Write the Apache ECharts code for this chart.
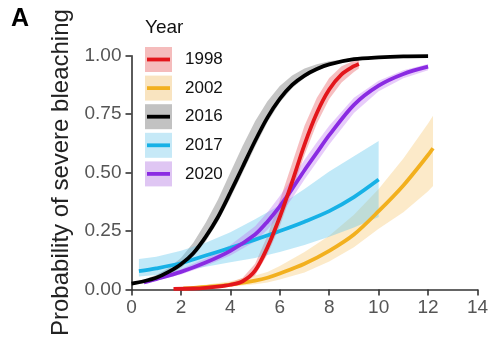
<!DOCTYPE html>
<html>
<head>
<meta charset="utf-8">
<script src="https://cdn.jsdelivr.net/npm/echarts@6/dist/echarts.min.js"></script>
<style>
  html, body { margin: 0; padding: 0; background: #fff; }
  #chart { width: 492px; height: 339px; }
</style>
</head>
<body>
<div id="chart"></div>
<script>
// Fitted probability of severe bleaching vs. heat stress, by bleaching year,
// with the confidence band (lo/hi) for each fit.
const years = ['1998', '2002', '2016', '2017', '2020'];

const x1998   = [1.7, 2.5, 3, 3.5, 4, 4.5, 5, 5.5, 6, 6.5, 7, 7.5, 8, 8.5, 9, 9.2];
const fit1998 = [0.002, 0.004, 0.007, 0.012, 0.02, 0.035, 0.08, 0.18, 0.31, 0.46, 0.62, 0.755, 0.855, 0.92, 0.955, 0.965];
const lo1998  = [0.001, 0.002, 0.004, 0.008, 0.013, 0.024, 0.06, 0.15, 0.27, 0.42, 0.575, 0.71, 0.815, 0.885, 0.93, 0.945];
const hi1998  = [0.004, 0.007, 0.011, 0.018, 0.03, 0.05, 0.11, 0.23, 0.38, 0.54, 0.70, 0.82, 0.905, 0.955, 0.978, 0.985];

const x2002   = [2.1, 3, 4, 5, 5.5, 6, 7, 8, 9, 10, 11, 12, 12.2];
const fit2002 = [0.004, 0.011, 0.021, 0.038, 0.05, 0.068, 0.11, 0.165, 0.235, 0.335, 0.445, 0.575, 0.604];
const lo2002  = [0.002, 0.005, 0.011, 0.022, 0.03, 0.042, 0.072, 0.12, 0.18, 0.26, 0.33, 0.42, 0.443];
const hi2002  = [0.008, 0.02, 0.035, 0.06, 0.075, 0.1, 0.16, 0.23, 0.32, 0.43, 0.56, 0.71, 0.743];

const x2016   = [0, 0.5, 1, 1.5, 2, 2.5, 3, 3.5, 4, 4.5, 5, 5.5, 6, 6.5, 7, 7.5, 8, 9, 10, 11, 12];
const fit2016 = [0.025, 0.035, 0.05, 0.075, 0.108, 0.155, 0.225, 0.31, 0.415, 0.525, 0.635, 0.735, 0.815, 0.875, 0.915, 0.943, 0.963, 0.985, 0.993, 0.997, 0.998];
const lo2016  = [0.02, 0.029, 0.042, 0.062, 0.092, 0.14, 0.205, 0.29, 0.39, 0.5, 0.61, 0.715, 0.8, 0.862, 0.905, 0.936, 0.958, 0.983, 0.992, 0.996, 0.997];
const hi2016  = [0.03, 0.042, 0.062, 0.092, 0.135, 0.2, 0.285, 0.385, 0.5, 0.615, 0.72, 0.805, 0.87, 0.915, 0.945, 0.963, 0.976, 0.99, 0.996, 0.998, 0.999];

const x2017   = [0.3, 1, 2, 3, 4, 5, 6, 7, 8, 9, 10];
const fit2017 = [0.078, 0.09, 0.112, 0.145, 0.178, 0.213, 0.25, 0.29, 0.335, 0.395, 0.47];
const lo2017  = [0.055, 0.062, 0.078, 0.097, 0.116, 0.135, 0.16, 0.19, 0.225, 0.265, 0.31];
const hi2017  = [0.13, 0.14, 0.165, 0.2, 0.245, 0.3, 0.36, 0.43, 0.505, 0.57, 0.635];

const x2020   = [0.5, 1, 2, 3, 4, 5, 5.5, 6, 6.5, 7, 7.5, 8, 9, 10, 11, 12];
const fit2020 = [0.03, 0.044, 0.075, 0.115, 0.165, 0.235, 0.29, 0.355, 0.43, 0.51, 0.585, 0.66, 0.79, 0.872, 0.922, 0.953];
const lo2020  = [0.025, 0.037, 0.064, 0.1, 0.145, 0.205, 0.255, 0.315, 0.39, 0.47, 0.545, 0.62, 0.755, 0.848, 0.903, 0.938];
const hi2020  = [0.036, 0.052, 0.087, 0.132, 0.19, 0.27, 0.33, 0.4, 0.475, 0.555, 0.63, 0.7, 0.82, 0.893, 0.938, 0.965];

const xTicks = [0, 2, 4, 6, 8, 10, 12, 14];
const yTicks = [0, 0.25, 0.5, 0.75, 1];

const groups = {
  '1998': { x: x1998, fit: fit1998, lo: lo1998, hi: hi1998 },
  '2002': { x: x2002, fit: fit2002, lo: lo2002, hi: hi2002 },
  '2016': { x: x2016, fit: fit2016, lo: lo2016, hi: hi2016 },
  '2017': { x: x2017, fit: fit2017, lo: lo2017, hi: hi2017 },
  '2020': { x: x2020, fit: fit2020, lo: lo2020, hi: hi2020 }
};

const lineColor = { '1998': '#e3161b', '2002': '#f2b01e', '2016': '#000000', '2017': '#17b1e6', '2020': '#8a2be2' };
const bandColor = {
  '1998': 'rgba(236,110,115,0.45)',
  '2002': 'rgba(245,196,100,0.35)',
  '2016': 'rgba(150,150,150,0.55)',
  '2017': 'rgba(100,200,238,0.40)',
  '2020': 'rgba(185,110,240,0.35)'
};
const keyColor = { '1998': '#f5bcbc', '2002': '#f9e4c0', '2016': '#c2c2c2', '2017': '#c6e9f7', '2020': '#dfc6f3' };

const font = 'Liberation Sans, Arial, Helvetica, sans-serif';

const series = [];
// confidence bands: one filled polygon per year (upper edge, then lower edge back)
years.forEach(function (y) {
  const g = groups[y];
  series.push({
    type: 'custom', name: y + ' band', silent: true, z: 1,
    data: g.x.map(function (v, i) { return [v, g.lo[i], g.hi[i]]; }),
    encode: { x: 0, y: [1, 2] },
    renderItem: function (params, api) {
      if (params.dataIndex !== 0) return null;
      const pts = [];
      for (let i = 0; i < g.x.length; i++) pts.push(api.coord([g.x[i], g.hi[i]]));
      for (let i = g.x.length - 1; i >= 0; i--) pts.push(api.coord([g.x[i], g.lo[i]]));
      return {
        type: 'polygon',
        shape: { points: pts },
        style: { fill: bandColor[y], stroke: null }
      };
    }
  });
});
// fitted curves, drawn above the bands
['2002', '2017', '2020', '1998', '2016'].forEach(function (y, k) {
  const g = groups[y];
  series.push({
    type: 'line', name: y, smooth: 0.3,
    symbol: 'none', z: 3 + k,
    lineStyle: { color: lineColor[y], width: 3.8, cap: 'butt' },
    data: g.x.map(function (v, i) { return [v, g.fit[i]]; })
  });
});

// legend key: band swatch with the curve colour across it
const graphic = [
  { type: 'text', z: 100, left: 11, top: 7, style: { text: 'A', font: 'bold 25px ' + font, fill: '#000' } },
  { type: 'text', z: 100, left: 145, top: 18, style: { text: 'Year', font: '19px ' + font, fill: '#111' } }
];
years.forEach(function (y, i) {
  const cy = 59.5 + i * 28.6;
  graphic.push({ type: 'rect', z: 100, shape: { x: 145, y: cy - 12.5, width: 27, height: 25 }, style: { fill: keyColor[y] } });
  graphic.push({ type: 'line', z: 101, shape: { x1: 147, y1: cy, x2: 170, y2: cy }, style: { stroke: lineColor[y], lineWidth: 3.8 } });
  graphic.push({ type: 'text', z: 101, x: 185, y: cy, style: { text: y, font: '17px ' + font, fill: '#111', verticalAlign: 'middle' } });
});

const axisCommon = {
  axisLine: { show: true, lineStyle: { color: '#333', width: 1.6 } },
  axisTick: { show: true, inside: false, length: 6, lineStyle: { color: '#333', width: 1.6 } },
  splitLine: { show: false }
};

const chart = echarts.init(document.getElementById('chart'), null, { renderer: 'canvas' });
chart.setOption({
  animation: false,
  backgroundColor: '#ffffff',
  grid: { left: 131.5, right: 14.5, top: 55.7, bottom: 45, containLabel: false },
  xAxis: Object.assign({
    type: 'value', min: xTicks[0], max: xTicks[xTicks.length - 1], interval: xTicks[1] - xTicks[0],
    axisLabel: { color: '#555', fontSize: 19, fontFamily: font, margin: 9 }
  }, axisCommon),
  yAxis: Object.assign({
    type: 'value', min: yTicks[0], max: yTicks[yTicks.length - 1], interval: yTicks[1] - yTicks[0],
    name: 'Probability of severe bleaching', nameLocation: 'middle', nameGap: 38,
    nameTextStyle: { color: '#222', fontSize: 24, fontFamily: font },
    axisLabel: { color: '#555', fontSize: 19, fontFamily: font, margin: 10,
      formatter: function (v) { return v.toFixed(2); } }
  }, axisCommon),
  graphic: graphic,
  series: series
});
</script>
</body>
</html>
